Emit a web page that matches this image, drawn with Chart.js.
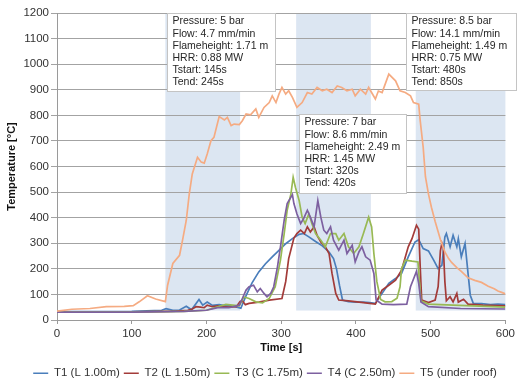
<!DOCTYPE html>
<html><head><meta charset="utf-8">
<script src="https://cdn.jsdelivr.net/npm/chart.js@4.4.0/dist/chart.umd.min.js"></script>
<style>html,body{margin:0;padding:0;background:#fff;}canvas{display:block;}</style>
</head><body>
<canvas id="c" width="518" height="383"></canvas>
<script>
// ---- data ----
const seriesNames = ['T1 (L 1.00m)', 'T2 (L 1.50m)', 'T3 (C 1.75m)', 'T4 (C 2.50m)', 'T5 (under roof)'];

const t1Time = [0,40,100,140,146,155,164,173,180,190,195,201,208,217,226,235,246,253,261,270,279,288,297,306,315,324,330,337,346,355,364,370,374,378,382,390,400,410,418,426,435,444,453,461,470,479,484,490,497,504,510,515,519,521,526,530,535,537,541,546,550,553,557,568,580,590,600];
const t1Temp = [33,33,34,38,44,38,39,54,40,80,58,70,57,60,55,55,46,95,145,188,220,247,272,298,318,335,338,325,307,290,266,240,200,135,78,72,70,70,68,65,104,143,162,182,247,305,314,279,270,234,201,214,325,338,286,331,286,318,247,299,182,97,65,64,60,62,60];

const t2Time = [0,100,145,160,175,181,186,192,197,201,208,215,222,230,240,245,248,252,257,270,284,301,306,310,317,321,326,331,335,339,344,348,353,359,364,368,373,377,390,410,426,435,444,453,461,470,475,479,481,484,486,488,497,506,510,513,515,517,519,521,526,530,535,537,544,550,570,600];
const t2Temp = [32,32,34,35,38,43,52,50,48,58,52,55,52,50,52,72,75,60,65,70,78,84,150,240,320,338,351,338,364,344,364,331,305,286,260,182,104,78,75,68,62,117,136,156,195,286,318,353,370,355,208,78,68,78,130,270,300,280,150,75,91,71,104,70,81,62,58,55];

const t3Time = [0,100,145,170,200,215,226,235,244,250,257,266,275,284,292,299,304,308,313,316,319,324,328,332,337,341,346,353,359,366,373,377,384,390,397,404,410,417,421,424,428,433,439,448,455,459,461,466,475,483,485,487,497,530,600];
const t3Temp = [32,32,33,34,38,52,61,58,55,90,84,71,67,84,130,234,338,429,493,558,519,467,402,377,415,377,338,312,286,338,338,312,338,286,260,286,338,402,364,260,150,80,71,72,85,130,200,234,230,227,150,75,62,58,50];

const t4Time = [0,100,145,170,200,215,230,244,248,253,257,263,268,272,277,281,286,290,295,299,304,308,315,317,321,326,330,335,339,344,349,353,357,361,366,370,377,384,388,395,399,404,408,413,419,424,427,435,450,468,473,479,481,484,487,497,540,600];
const t4Temp = [31,31,33,34,38,48,48,58,84,117,130,136,110,123,104,91,104,130,208,286,390,455,490,455,415,377,396,429,402,364,467,402,351,338,364,312,273,312,260,292,227,266,286,247,234,182,78,62,60,62,130,175,190,143,70,52,45,43];

const t5Time = [0,20,44,66,90,102,110,121,132,145,148,155,164,168,173,177,181,188,193,197,201,206,210,217,224,228,233,237,244,248,253,259,266,270,277,284,288,293,297,301,306,310,315,321,328,335,341,348,355,361,368,375,381,388,395,399,406,413,417,426,430,435,444,453,459,466,473,477,484,486,490,493,497,501,506,510,513,519,524,528,535,541,550,559,568,577,585,590,595,600];
const t5Temp = [35,42,45,52,53,56,71,95,82,72,136,221,253,312,390,493,571,636,617,613,649,701,714,795,782,792,760,766,764,779,805,802,825,792,831,850,876,850,883,909,883,896,870,831,850,889,883,909,896,902,889,915,909,896,902,876,902,883,909,864,895,889,961,935,896,889,876,850,844,779,675,560,493,441,385,345,315,266,240,225,205,190,165,155,147,132,122,113,108,102];

// test phases (from the annotation boxes)
const pressureBar  = [5, 7, 8.5];
const flowMmMin    = [4.7, 8.6, 14.1];
const flameHeightM = [1.71, 2.49, 1.49];
const hrrMW        = [0.88, 1.45, 0.75];
const tStart       = [145, 320, 480];
const tEnd         = [245, 420, 850];

const xTickStep = 100, xMin = 0, xMax = 600;
const yTickStep = 100, yMin = 0, yMax = 1200;

// ---- styling ----
const colors = ['#4A7EBB', '#A33B39', '#98B954', '#7D60A0', '#F5AB82'];
const FONT = "'Liberation Sans', Arial, sans-serif";

const timeArrays = [t1Time, t2Time, t3Time, t4Time, t5Time];
const tempArrays = [t1Temp, t2Temp, t3Temp, t4Temp, t5Temp];

const datasets = seriesNames.map((name, i) => ({
  label: name,
  data: timeArrays[i].map((t, k) => ({x: t, y: tempArrays[i][k]})),
  borderColor: colors[i],
  backgroundColor: colors[i],
  borderWidth: 1.7,
  pointRadius: 0,
  tension: 0,
  fill: false,
  order: 5 - i
}));

const shadePlugin = {
  id: 'shade',
  beforeDraw(chart, args, opts) {
    const {ctx, scales: {x, y}} = chart;
    ctx.save();
    ctx.fillStyle = opts.color;
    tStart.forEach((s, i) => {
      const x0 = x.getPixelForValue(s);
      const x1 = x.getPixelForValue(Math.min(tEnd[i], x.max));
      const y0 = y.getPixelForValue(y.max);
      const y1 = y.getPixelForValue(opts.base);
      ctx.fillRect(x0, y0, x1 - x0, y1 - y0);
    });
    ctx.restore();
  }
};

const boxPlugin = {
  id: 'phaseBoxes',
  afterDatasetsDraw(chart, args, opts) {
    const {ctx, scales: {x, y}} = chart;
    ctx.save();
    opts.anchors.forEach((a, i) => {
      const lines = [
        'Pressure: ' + pressureBar[i] + ' bar',
        'Flow: ' + flowMmMin[i] + ' mm/min',
        'Flameheight: ' + flameHeightM[i] + ' m',
        'HRR: ' + hrrMW[i] + ' MW',
        'Tstart: ' + tStart[i] + 's',
        'Tend: ' + tEnd[i] + 's'
      ];
      const bx = Math.round(x.getPixelForValue(a.t)) + 0.5;
      const by = Math.round(y.getPixelForValue(a.v)) + 0.5;
      ctx.fillStyle = '#ffffff';
      ctx.fillRect(bx, by, a.w, a.h);
      ctx.strokeStyle = '#c4c4c4';
      ctx.lineWidth = 1;
      ctx.strokeRect(bx, by, a.w, a.h);
      ctx.fillStyle = '#262626';
      ctx.font = '10.5px ' + FONT;
      ctx.textBaseline = 'middle';
      ctx.textAlign = 'left';
      lines.forEach((ln, k) => ctx.fillText(ln, bx + 5, by + 8 + k * 12.2));
    });
    ctx.restore();
  }
};

const legendShift = {
  id: 'legendShift',
  afterLayout(chart, args, opts) {
    chart.legend.left += opts.dx;
    chart.legend.right += opts.dx;
  }
};

new Chart(document.getElementById('c'), {
  type: 'line',
  data: {datasets},
  plugins: [shadePlugin, boxPlugin, legendShift],
  options: {
    responsive: false,
    animation: false,
    devicePixelRatio: 1,
    layout: {padding: {top: 13, right: 12, bottom: -6, left: 0}},
    plugins: {
      shade: {color: '#DCE6F2', base: 37},
      phaseBoxes: {anchors: [
        {t: 147.5, v: 1200, w: 108, h: 78},
        {t: 323.5, v: 806, w: 107, h: 79},
        {t: 467.5, v: 1200, w: 110, h: 77}
      ]},
      legendShift: {dx: 12},
      tooltip: {enabled: false},
      legend: {
        position: 'bottom',
        labels: {
          usePointStyle: true,
          pointStyle: 'line',
          pointStyleWidth: 15,
          padding: 4,
          color: '#333',
          font: {family: FONT, size: 11.5},
          sort: (a, b) => a.datasetIndex - b.datasetIndex
        }
      }
    },
    scales: {
      x: {
        type: 'linear',
        min: xMin, max: xMax,
        ticks: {stepSize: xTickStep, color: '#333', font: {family: FONT, size: 11.5}, padding: 3, maxRotation: 0, callback: v => String(v)},
        grid: {drawOnChartArea: false, drawTicks: true, tickLength: 4, color: '#9a9a9a'},
        border: {display: true, color: '#9a9a9a'},
        title: {display: true, text: 'Time [s]', color: '#111', font: {family: FONT, size: 11, weight: 'bold'}, padding: {top: 0, bottom: 8.5}},
        afterFit(s) { s.height = 43.5; }
      },
      y: {
        min: yMin, max: yMax,
        ticks: {stepSize: yTickStep, color: '#333', font: {family: FONT, size: 11.5}, padding: 2, callback: v => String(v)},
        grid: {color: '#a3a3a3', drawTicks: true, tickLength: 6},
        border: {display: true, color: '#9a9a9a'},
        title: {display: true, text: 'Temperature [°C]', color: '#111', font: {family: FONT, size: 11, weight: 'bold'}, padding: {top: 5, bottom: 0}},
        afterFit(s) { s.width = 57; }
      }
    }
  }
});
</script>
</body></html>
